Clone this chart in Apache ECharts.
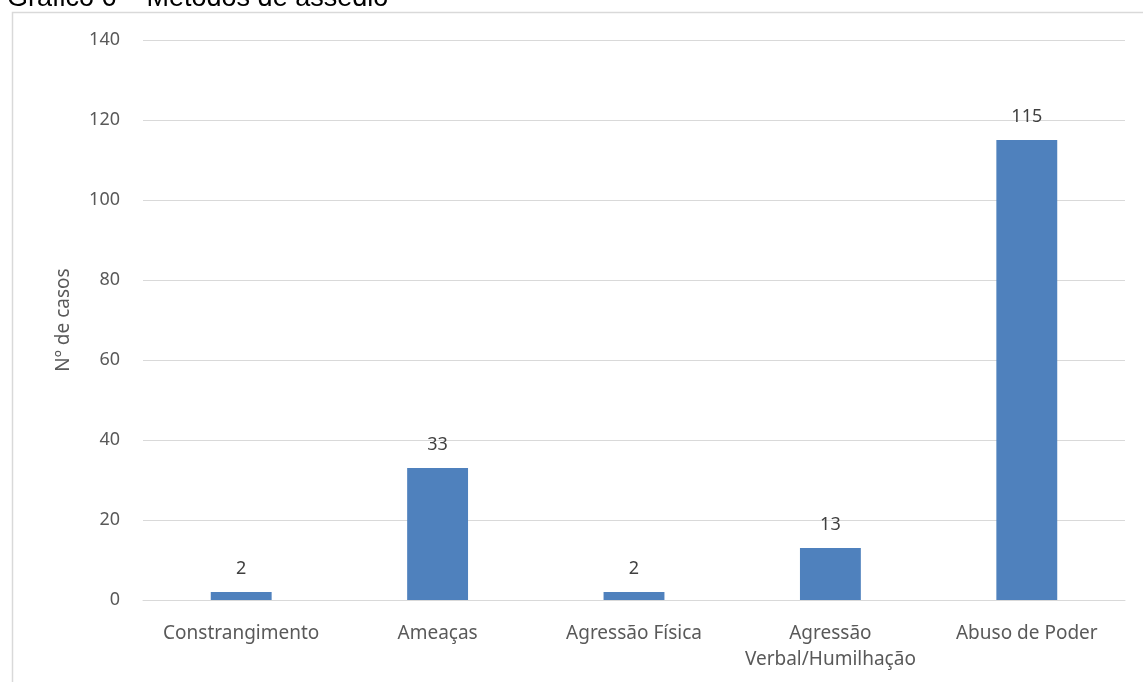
<!DOCTYPE html>
<html><head><meta charset="utf-8">
<script src="https://cdn.jsdelivr.net/npm/echarts@6/dist/echarts.min.js"></script>
<style>html,body{margin:0;padding:0;background:#fff}#c{width:1143px;height:682px}</style>
</head><body><div id="c"></div>
<script>
const categories = ['Constrangimento', 'Ameaças', 'Agressão Física', 'Agressão\nVerbal/Humilhação', 'Abuso de Poder'];
const values = [2, 33, 2, 13, 115];
const titleText = 'Gráfico 6 – Métodos de assédio';
const yAxisName = 'Nº de casos';

const chart = echarts.init(document.getElementById('c'), null, {renderer: 'canvas'});
chart.setOption({
  animation: false,
  backgroundColor: '#fff',
  graphic: [
    {type: 'rect', left: 10, top: 10, shape: {width: 1160, height: 700}, style: {fill: 'none', stroke: '#d9d9d9', lineWidth: 1.5}, z: 0},
    {type: 'text', left: 7, top: -15, style: {text: titleText, font: '27px "Liberation Sans", Arial, sans-serif', fill: '#000'}, z: 10}
  ],
  grid: {left: 143, right: 18, top: 40, bottom: 82},
  xAxis: {
    type: 'category', data: categories,
    axisLine: {lineStyle: {color: '#d9d9d9', width: 1}},
    axisTick: {show: false},
    axisLabel: {color: '#595959', fontSize: 19, fontFamily: 'Noto Sans', margin: 21, lineHeight: 26, interval: 0}
  },
  yAxis: {
    type: 'value', min: 0, max: 140, interval: 20,
    name: yAxisName, nameLocation: 'middle', nameGap: 70,
    nameTextStyle: {color: '#595959', fontSize: 19, fontFamily: 'Noto Sans'},
    axisLine: {show: false}, axisTick: {show: false},
    axisLabel: {color: '#595959', fontSize: 18, fontFamily: 'Noto Sans', margin: 23},
    splitLine: {lineStyle: {color: '#d9d9d9', width: 1}}
  },
  series: [{
    type: 'bar', data: values, barWidth: '31%',
    itemStyle: {color: '#4f81bd'},
    label: {show: true, position: 'top', distance: 14, color: '#404040', fontSize: 18, fontFamily: 'Noto Sans'}
  }]
});
</script></body></html>
